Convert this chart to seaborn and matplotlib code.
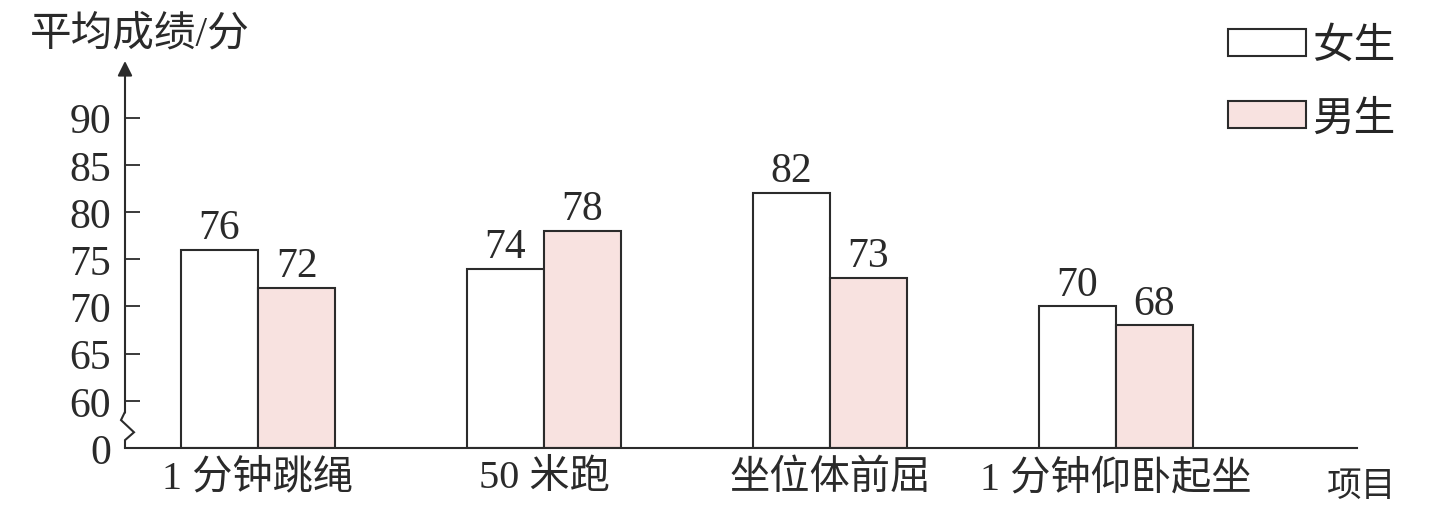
import numpy as np
import pandas as pd
import seaborn as sns
import matplotlib.pyplot as plt
import matplotlib.transforms as mtransforms
from matplotlib.patches import Patch

# Data
categories = ["1 分钟跳绳", "50 米跑", "坐位体前屈", "1 分钟仰卧起坐"]
girls = [76, 74, 82, 70]
boys = [72, 78, 73, 68]
y_ticks = [0, 60, 65, 70, 75, 80, 85, 90]

df = pd.DataFrame({
    "项目": categories * 2,
    "性别": ["女生"] * len(categories) + ["男生"] * len(categories),
    "成绩": girls + boys,
})

sns.set_style("white")
plt.rcParams["font.family"] = ["Liberation Serif", "Noto Sans CJK SC", "DejaVu Sans"]

pink = "#f8e2e0"
edge = "#2b2b2b"
txt = "#2a2a2a"

fig = plt.figure(figsize=(14.43, 5.10), dpi=100)
ax = fig.add_axes([125 / 1443, 61 / 510, 1232 / 1443, 387 / 510])

sns.barplot(data=df, x="项目", y="成绩", hue="性别", hue_order=["女生", "男生"],
            palette={"女生": "white", "男生": pink}, edgecolor=edge, linewidth=1.5,
            width=0.54, gap=0, saturation=1, legend=False, ax=ax)


# broken y axis: 0 -> 60 squeezed into a small gap
def fwd(v):
    v = np.asarray(v, dtype=float)
    return np.where(v < 60, v / 12.0, v - 55.0)


def inv(d):
    d = np.asarray(d, dtype=float)
    return np.where(d < 5, d * 12.0, d + 55.0)


ax.set_yscale("function", functions=(fwd, inv))
ax.set_ylim(0, 96)
ax.set_xlim(-0.465, 3.843)

ax.set_yticks(y_ticks)
ax.set_yticklabels([str(t) for t in y_ticks])
ax.tick_params(axis="y", left=True, direction="in", length=11, width=1.3, color=edge,
               pad=10, labelsize=30, labelcolor=txt)
ax.yaxis.get_major_ticks()[0].tick1line.set_visible(False)
ax.tick_params(axis="x", bottom=False, length=0, pad=8, labelsize=29, labelcolor=txt)
ax.set_xlabel("")
ax.set_ylabel("")

for c in ax.containers:
    ax.bar_label(c, padding=2, fontsize=30, color=txt)

for s in ["top", "right", "left"]:
    ax.spines[s].set_visible(False)
ax.spines["bottom"].set_color(edge)
ax.spines["bottom"].set_linewidth(1.5)

# y axis line with zigzag break and arrow
trans = mtransforms.blended_transform_factory(ax.transAxes, ax.transData)
px = 1 / 1232
ax.plot([0, 0, 9 * px, -4 * px, 0], [0, 10, 20, 35.5, 46], color=edge, lw=1.5,
        transform=trans, clip_on=False, solid_joinstyle="miter")
ax.annotate("", xy=(0, 96), xytext=(0, 45), xycoords=trans, textcoords=trans,
            arrowprops=dict(arrowstyle="-|>", color=edge, lw=1.5,
                            mutation_scale=22, shrinkA=0, shrinkB=0))

fig.text(30 / 1443, 1 - 35 / 510, "平均成绩/分", fontsize=30, va="center", ha="left", color=txt)
fig.text(1362 / 1443, 1 - 487 / 510, "项目", fontsize=25, va="center", ha="center", color=txt)

handles = [Patch(facecolor="white", edgecolor=edge, linewidth=1.5, label="女生"),
           Patch(facecolor=pink, edgecolor=edge, linewidth=1.5, label="男生")]
fig.legend(handles=handles, loc="upper right", bbox_to_anchor=(1395 / 1443, 1 - 28 / 510),
           frameon=False, fontsize=30, handlelength=1.87, handleheight=0.62,
           handletextpad=0.15, labelspacing=0.82, borderpad=0, borderaxespad=0)

fig.savefig("out.png", dpi=100)
